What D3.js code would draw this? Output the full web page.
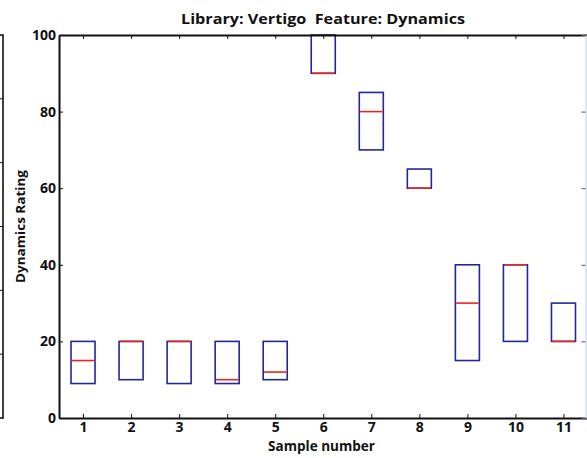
<!DOCTYPE html>
<html>
<head>
<meta charset="utf-8">
<script src="https://cdn.jsdelivr.net/npm/d3@7"></script>
<style>
  html, body { margin: 0; padding: 0; background: #ffffff; }
  svg { display: block; }
  text { white-space: pre; }
</style>
</head>
<body>
<svg id="chart" width="587" height="458"></svg>
<script>
// Box statistics per sample (Dynamics rating)
const samples = [1, 2, 3, 4, 5, 6, 7, 8, 9, 10, 11];
const lowerQuartile = [9, 10, 9, 9, 10, 90, 70, 60, 15, 20, 20];
const medians = [15, 20, 20, 10, 12, 90, 80, 60, 30, 40, 20];
const upperQuartile = [20, 20, 20, 20, 20, 100, 85, 65, 40, 40, 30];
const yTicks = [0, 20, 40, 60, 80, 100];
const neighbourTicks = [0, 1, 2, 3, 4, 5, 6];

const svg = d3.select("#chart");
const plotLeft = 59, plotRight = 587.5, plotTop = 35, plotBottom = 418;
const font = "'Open Sans', 'Noto Sans', sans-serif";

const x = d3.scaleLinear().domain([0.5, 11.5]).range([plotLeft, plotRight]);
const y = d3.scaleLinear().domain([0, 100]).range([plotBottom, plotTop]);
const boxHalf = 0.25;

const blue = "#23279a";
const red = "#e8261e";
const axisColor = "#111111";

// Edge of the neighbouring panel on the left
const yNeighbour = d3.scaleLinear().domain([0, 6]).range([plotBottom, plotTop]);
svg.append("rect")
  .attr("x", -20).attr("y", plotTop).attr("width", 23).attr("height", plotBottom - plotTop)
  .attr("fill", "none").attr("stroke", axisColor).attr("stroke-width", 1.6);
svg.append("g").selectAll("line").data(neighbourTicks.slice(1, -1)).join("line")
  .attr("x1", 3).attr("x2", -1)
  .attr("y1", d => yNeighbour(d)).attr("y2", d => yNeighbour(d))
  .attr("stroke", axisColor).attr("stroke-width", 1);

// Boxes
const data = samples.map((s, i) => ({ s, q1: lowerQuartile[i], med: medians[i], q3: upperQuartile[i] }));
const boxes = svg.append("g");
boxes.selectAll("rect").data(data).join("rect")
  .attr("x", d => x(d.s - boxHalf))
  .attr("y", d => y(d.q3))
  .attr("width", d => x(d.s + boxHalf) - x(d.s - boxHalf))
  .attr("height", d => y(d.q1) - y(d.q3))
  .attr("fill", "none").attr("stroke", blue).attr("stroke-width", 1.6);
boxes.selectAll("line.median").data(data).join("line")
  .attr("class", "median")
  .attr("x1", d => x(d.s - boxHalf) + 0.8).attr("x2", d => x(d.s + boxHalf) - 0.8)
  .attr("y1", d => y(d.med)).attr("y2", d => y(d.med))
  .attr("stroke", red).attr("stroke-width", 1.6);

// Axes with inward ticks
const gBottom = svg.append("g").attr("transform", `translate(0,${plotBottom})`)
  .call(d3.axisBottom(x).tickValues(samples).tickFormat(d3.format("d")).tickSizeInner(-4).tickSizeOuter(0).tickPadding(4));
const gLeft = svg.append("g").attr("transform", `translate(${plotLeft},0)`)
  .call(d3.axisLeft(y).tickValues(yTicks).tickSizeInner(-4).tickSizeOuter(0).tickPadding(3));
const gTop = svg.append("g").attr("transform", `translate(0,${plotTop})`)
  .call(d3.axisTop(x).tickValues(samples).tickFormat("").tickSizeInner(-4).tickSizeOuter(0));
const gRight = svg.append("g").attr("transform", `translate(585.5,0)`)
  .call(d3.axisRight(y).tickValues(yTicks).tickFormat("").tickSizeInner(-4).tickSizeOuter(0));

[gBottom, gLeft, gTop].forEach(g => {
  g.select(".domain").attr("stroke", axisColor).attr("stroke-width", 2);
  g.selectAll(".tick line").attr("stroke", axisColor).attr("stroke-width", 1);
  g.selectAll(".tick text")
    .attr("fill", "#111").attr("font-size", 14)
    .attr("font-family", font).attr("font-weight", "bold");
});
gRight.select(".domain").attr("stroke", "#d6e2ea").attr("stroke-width", 1.5);
gRight.selectAll(".tick line").attr("stroke", "#556").attr("stroke-width", 1);

// Titles
svg.append("text")
  .attr("x", 323).attr("y", 24)
  .attr("text-anchor", "middle")
  .attr("font-family", font).attr("font-weight", "bold")
  .attr("font-size", 14.5).attr("fill", "#111")
  .attr("textLength", 284).attr("lengthAdjust", "spacingAndGlyphs")
  .text("Library: Vertigo  Feature: Dynamics");

svg.append("text")
  .attr("x", 321.5).attr("y", 451)
  .attr("text-anchor", "middle")
  .attr("font-family", font).attr("font-weight", "bold")
  .attr("font-size", 13.5).attr("fill", "#111")
  .attr("textLength", 107).attr("lengthAdjust", "spacingAndGlyphs")
  .text("Sample number");

svg.append("text")
  .attr("transform", `translate(25,${(plotTop + plotBottom) / 2}) rotate(-90)`)
  .attr("text-anchor", "middle")
  .attr("font-family", font).attr("font-weight", "bold")
  .attr("font-size", 13).attr("fill", "#111")
  .attr("textLength", 113).attr("lengthAdjust", "spacingAndGlyphs")
  .text("Dynamics Rating");
</script>
</body>
</html>
